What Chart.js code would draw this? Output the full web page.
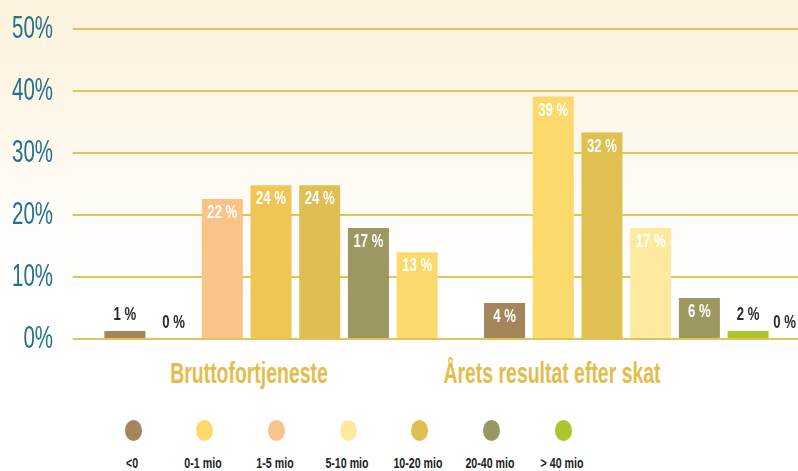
<!DOCTYPE html>
<html>
<head>
<meta charset="utf-8">
<script src="https://cdn.jsdelivr.net/npm/chart.js@4"></script>
<style>
  html, body { margin:0; padding:0; }
  body {
    width:798px; height:471px; overflow:hidden; position:relative;
    background: linear-gradient(to bottom, #fcf2dd 0px, #fdf7ea 120px, #fffdf9 220px, #ffffff 300px);
    font-family: "Liberation Sans", Arial, sans-serif;
  }
  #c { position:absolute; left:0; top:0; }
  .cat {
    position:absolute; top:356px; font-weight:bold; font-size:29px; color:#e2bd4a;
    white-space:nowrap; transform: translateX(-50%) scaleX(0.67); line-height:34px;
  }
  .dot { position:absolute; top:419.5px; width:17px; height:21px; margin-left:-8.5px; border-radius:50%; }
  .lgt { position:absolute; top:454.5px; font-weight:bold; font-size:14px; color:#222; white-space:nowrap;
         line-height:16px; transform: translateX(-50%) scaleX(0.76); }
</style>
</head>
<body>
<canvas id="c" width="860" height="350"></canvas>
<div id="cats"></div>
<div id="legend"></div>
<script>
// ---- data ----
const categories = ['Bruttofortjeneste', 'Årets resultat efter skat'];
// bar heights (%) per slot, as drawn
const bruttoHeights   = [1.3, 0, 22.6, 24.8, 24.8, 17.9, 14.0];
const resultatHeights = [5.8, 39.1, 33.3, 17.9, 6.6, 1.3, 0];
// printed value labels (%)
const bruttoPrinted   = [1, 0, 22, 24, 24, 17, 13];
const resultatPrinted = [4, 39, 32, 17, 6, 2, 0];
// bar colours per slot
const bruttoColors   = ['#a4855c', '#fdd96b', '#fac488', '#efc655', '#dfbf51', '#9b9862', '#fcd96b'];
const resultatColors = ['#a4855c', '#fcd96b', '#dfc050', '#fdeaa0', '#9b9862', '#a9c62a', '#a9c62a'];
// legend
const legendLabels = ['<0', '0-1 mio', '1-5 mio', '5-10 mio', '10-20 mio', '20-40 mio', '> 40 mio'];
const legendColors = ['#a4855c', '#fdd96b', '#f9c489', '#fdeaa0', '#e0bf52', '#9a9862', '#a9c62a'];
const yMax = 50, yStep = 10;

const FONT = '"Liberation Sans", Arial, sans-serif';

const datasets = bruttoHeights.map((h, i) => ({
  label: 'Søjle ' + (i + 1),
  data: [bruttoHeights[i], resultatHeights[i]],
  printed: [bruttoPrinted[i], resultatPrinted[i]],
  backgroundColor: [bruttoColors[i], resultatColors[i]],
  borderWidth: 0,
  categoryPercentage: 0.898,
  barPercentage: 0.842
}));

function condensedText(ctx, txt, x, y, sx) {
  ctx.save();
  ctx.translate(x, y);
  ctx.scale(sx, 1);
  ctx.fillText(txt, 0, 0);
  ctx.restore();
}

// y tick labels in a condensed face, placed by the y scale
const yLabelPlugin = {
  id: 'yLabels',
  afterDraw(chart) {
    const ctx = chart.ctx, s = chart.scales.y;
    ctx.save();
    ctx.font = '32px ' + FONT;
    ctx.fillStyle = '#22718b';
    ctx.textAlign = 'right';
    ctx.textBaseline = 'middle';
    s.ticks.forEach(t => {
      condensedText(ctx, t.value + '%', 53, s.getPixelForValue(t.value), 0.64);
    });
    ctx.restore();
  }
};

const labelPlugin = {
  id: 'barLabels',
  afterDatasetsDraw(chart) {
    const ctx = chart.ctx;
    ctx.save();
    ctx.font = 'bold 18px ' + FONT;
    ctx.textAlign = 'center';
    ctx.textBaseline = 'middle';
    const sx = 0.73;
    chart.data.datasets.forEach((ds, di) => {
      const meta = chart.getDatasetMeta(di);
      meta.data.forEach((bar, i) => {
        const h = ds.data[i];
        const inside = h > 3;
        const txt = ds.printed[i] + ' %';
        const half = ctx.measureText(txt).width * sx / 2;
        const x = Math.min(bar.x, 796 - half);
        ctx.fillStyle = inside ? '#ffffff' : '#2a2a2a';
        condensedText(ctx, txt, x, inside ? bar.y + 14 : bar.y - 16, sx);
      });
    });
    ctx.restore();
  }
};

const chart = new Chart(document.getElementById('c'), {
  type: 'bar',
  data: { labels: categories, datasets },
  options: {
    responsive: false,
    devicePixelRatio: 1,
    animation: false,
    layout: { padding: { top: 29, bottom: 11, right: 19.5, left: 0 } },
    plugins: { legend: { display: false }, tooltip: { enabled: false } },
    scales: {
      x: { display: false },
      y: {
        min: 0, max: yMax,
        ticks: { stepSize: yStep, display: false },
        grid: { color: '#e2c35a', lineWidth: 2, drawTicks: true, tickLength: 8.5, tickColor: '#e2c35a' },
        border: { display: false },
        afterFit: s => { s.width = 81.2; }
      }
    }
  },
  plugins: [labelPlugin, yLabelPlugin]
});

// category titles
const catCenters = [249, 551.5];
const catsEl = document.getElementById('cats');
categories.forEach((c, i) => {
  const d = document.createElement('div');
  d.className = 'cat';
  d.style.left = catCenters[i] + 'px';
  d.textContent = c;
  catsEl.appendChild(d);
});
// legend
const lgEl = document.getElementById('legend');
legendLabels.forEach((l, i) => {
  const cx = 133 + i * 71.7;
  const dot = document.createElement('div');
  dot.className = 'dot';
  dot.style.left = cx + 'px';
  dot.style.background = legendColors[i];
  lgEl.appendChild(dot);
  const t = document.createElement('div');
  t.className = 'lgt';
  t.style.left = (cx - 1.5) + 'px';
  t.textContent = l;
  lgEl.appendChild(t);
});
</script>
</body>
</html>
